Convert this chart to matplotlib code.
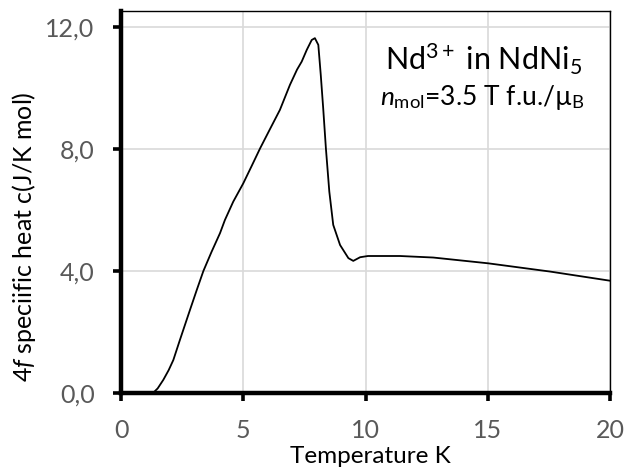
import numpy as np
import matplotlib
matplotlib.use("Agg")
import matplotlib.pyplot as plt
from matplotlib.ticker import FuncFormatter

# Werte (Temperatur in K, c in J/K mol)
temperatur = [1.31, 1.5, 1.73, 1.95, 2.14, 2.41, 2.82, 3.1, 3.37, 3.7, 4.05,
              4.25, 4.59, 5.0, 5.35, 5.69, 6.1, 6.5, 6.91, 7.2, 7.39, 7.6,
              7.8, 7.93, 8.07, 8.17, 8.27, 8.38, 8.52, 8.68, 8.96, 9.3, 9.5,
              9.78, 10.1, 11.41, 12.77, 15.02, 17.55, 20.0]
waerme = [0.0, 0.15, 0.43, 0.75, 1.08, 1.74, 2.72, 3.38, 4.0, 4.62, 5.24,
          5.67, 6.27, 6.87, 7.45, 8.02, 8.66, 9.28, 10.10, 10.6, 10.86, 11.25,
          11.57, 11.63, 11.41, 10.43, 9.33, 8.02, 6.60, 5.51, 4.85, 4.42, 4.33,
          4.45, 4.49, 4.49, 4.44, 4.25, 3.98, 3.68]

x_ticks = [0, 5, 10, 15, 20]
y_ticks = [0, 4, 8, 12]

plt.rcParams['font.family'] = ['Lato', 'DejaVu Sans']
plt.rcParams['mathtext.fontset'] = 'custom'
plt.rcParams['mathtext.rm'] = 'Lato'
plt.rcParams['mathtext.it'] = 'Lato:italic'

fig = plt.figure(figsize=(6.28, 4.67), dpi=100)
ax = fig.add_axes([121 / 628, 74 / 467, 489 / 628, 382 / 467])

ax.plot(temperatur, waerme, color='black', linewidth=1.3, zorder=3,
        solid_joinstyle='round')

ax.set_xlim(0, 20)
ax.set_ylim(0, 12.52)
ax.set_xticks(x_ticks)
ax.set_yticks(y_ticks)
ax.yaxis.set_major_formatter(FuncFormatter(lambda v, p: f"{v:.1f}".replace('.', ',')))
ax.grid(True, color='#d9d9d9', linewidth=1.2, zorder=0)
ax.set_axisbelow(True)

for s in ['left', 'bottom']:
    ax.spines[s].set_linewidth(3.2)
for s in ['top', 'right']:
    ax.spines[s].set_linewidth(1.0)

ax.tick_params(axis='both', direction='out', length=6, width=2.6,
               labelsize=18, labelcolor='#595959', color='black')
ax.tick_params(axis='x', pad=13)
ax.tick_params(axis='y', pad=13)

ax.set_xlabel("Temperature K", fontsize=17.5)
ax.xaxis.set_label_coords(0.509, -0.139)
ax.set_ylabel("$\\it{4f}$ speciific heat c(J/K mol)", fontsize=18)
ax.yaxis.set_label_coords(-0.17, 0.408)

ax.text(0.742, 0.846, "Nd$^{3+}$ in NdNi$_5$", transform=ax.transAxes,
        fontsize=22, ha='center', va='baseline')
ax.text(0.739, 0.754, "$\\it{n}_{\\rm mol}$=3.5 T f.u./µ$_{\\rm B}$",
        transform=ax.transAxes, fontsize=19, ha='center', va='baseline')

fig.savefig("out.png", dpi=100)
